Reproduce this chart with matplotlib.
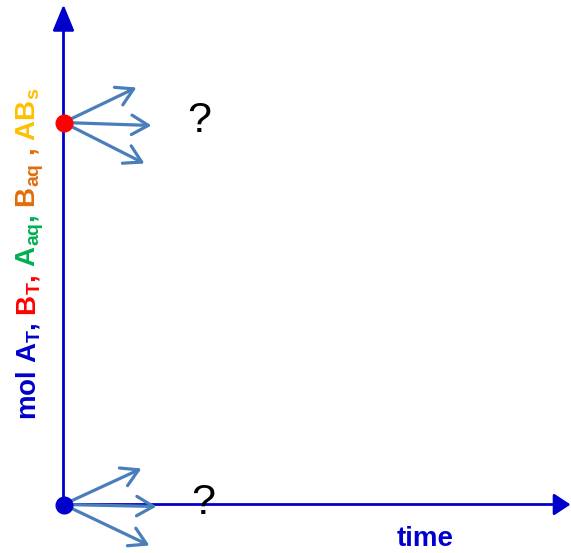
import matplotlib.pyplot as plt

plt.rcParams['font.family'] = 'Liberation Sans'
plt.rcParams['mathtext.fontset'] = 'custom'
plt.rcParams['mathtext.rm'] = 'Liberation Sans:bold'
plt.rcParams['mathtext.it'] = 'Liberation Sans:bold'
plt.rcParams['mathtext.bf'] = 'Liberation Sans:bold'

# schematic units, origin at the corner of the two axes
time_max = 507
mol_max = 500
start_mol = [382, 0]
start_colors = ['#FF0000', '#0000CC']
# possible directions from each start point (d_time, d_mol)
arrow_dt = [[73, 88, 81], [78, 93, 86]]
arrow_dmol = [[35, -3, -41], [36, -2, -41]]
question_pos = [(136, 383), (140, 1)]

label_parts = ['mol A$_T$,', ' B$_T$,', ' A$_{aq}$,', ' B$_{aq}$ ,', ' AB$_s$']
label_colors = ['#0000CC', '#FF0000', '#00B050', '#E46C0A', '#FFC000']

axis_color = '#0000CC'
arrow_color = '#4A7EBB'

fig = plt.figure(figsize=(5.71, 5.53), dpi=100)
ax = fig.add_axes([0, 0, 1, 1])
ax.set_xlim(-63.5, 507.5)
ax.set_ylim(-48.5, 504.5)
ax.axis('off')

# axes with filled arrow heads
ax.annotate('', xy=(0, mol_max), xytext=(0, 0),
            arrowprops=dict(arrowstyle='-|>,head_length=0.8,head_width=0.33',
                            color=axis_color, lw=2, shrinkA=0, shrinkB=0,
                            mutation_scale=20))
ax.annotate('', xy=(time_max, 0), xytext=(0, 0),
            arrowprops=dict(arrowstyle='-|>,head_length=0.5,head_width=0.33',
                            color=axis_color, lw=2, shrinkA=0, shrinkB=0,
                            mutation_scale=20))

# possible paths from each start point
for m0, dts, dms in zip(start_mol, arrow_dt, arrow_dmol):
    for dt, dm in zip(dts, dms):
        ax.annotate('', xy=(dt, m0 + dm), xytext=(0, m0),
                    arrowprops=dict(arrowstyle='->,head_length=0.6,head_width=0.35',
                                    color=arrow_color, lw=2.3, shrinkA=0, shrinkB=0,
                                    mutation_scale=20))

for m0, c in zip(start_mol, start_colors):
    ax.plot(0, m0, 'o', color=c, markersize=12, zorder=5)

for x, y in question_pos:
    ax.text(x, y, '?', fontsize=31, ha='center', va='center', color='black')

ax.text(362, -34, 'time', fontsize=20, fontweight='bold', color=axis_color,
        ha='center', va='center')

# multicolour y label, stacked piece by piece
prev = ax.text(-28, 84, label_parts[0], rotation=90, rotation_mode='anchor',
               ha='left', va='baseline', fontsize=20, fontweight='bold',
               color=label_colors[0])
for part, col in zip(label_parts[1:], label_colors[1:]):
    prev = ax.annotate(part, xy=(-28, 1), xycoords=('data', prev),
                       rotation=90, rotation_mode='anchor', ha='left',
                       va='baseline', fontsize=20, fontweight='bold', color=col)

fig.savefig('out.png', dpi=100)
